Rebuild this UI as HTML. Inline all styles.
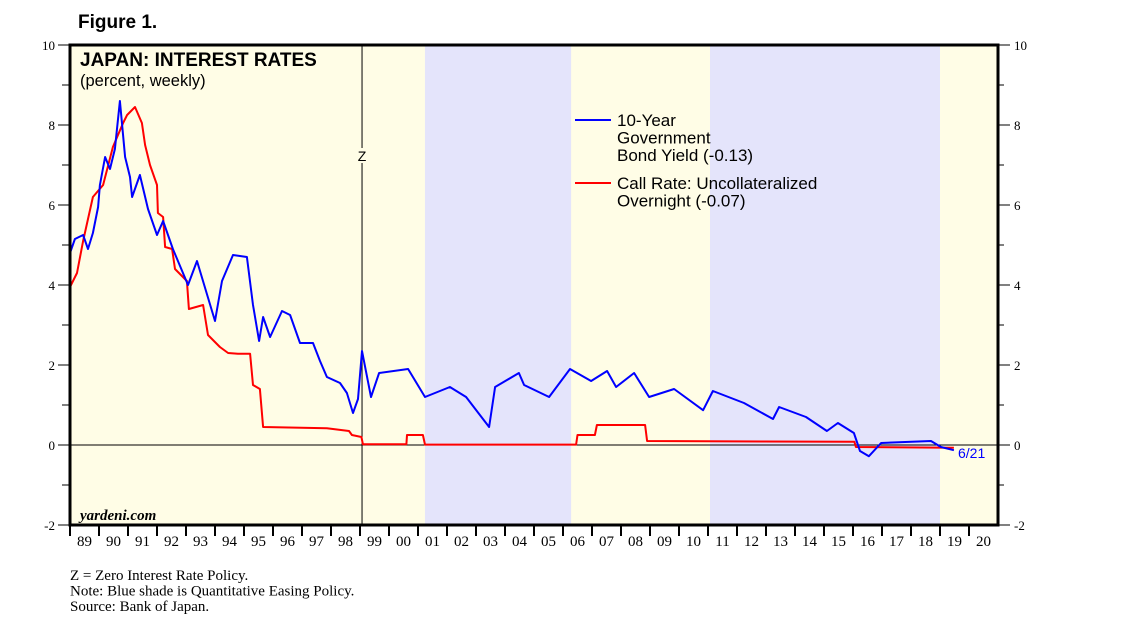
<!DOCTYPE html>
<html><head><meta charset="utf-8"><style>
body{margin:0;background:#fff;}
svg{display:block;}
text{font-family:"Liberation Sans",sans-serif;}
.serif{font-family:"Liberation Serif",serif;}
</style></head><body>
<svg id="chart" width="1138" height="629" viewBox="0 0 1138 629" xmlns="http://www.w3.org/2000/svg">
<text x="78" y="28" font-size="19" font-weight="bold">Figure 1.</text>
<g id="plot"></g>
</svg>
<script>
const bondYears=[1989.00,1989.17,1989.45,1989.62,1989.79,1989.97,1990.03,1990.21,1990.38,1990.55,1990.72,1990.90,1991.07,1991.14,1991.41,1991.69,1992.00,1992.21,1992.55,1993.07,1993.38,1994.00,1994.24,1994.62,1995.10,1995.31,1995.52,1995.66,1995.90,1996.31,1996.59,1996.93,1997.38,1997.62,1997.86,1998.31,1998.55,1998.76,1998.93,1999.07,1999.38,1999.66,2000.66,2001.24,2002.10,2002.66,2003.45,2003.66,2004.48,2004.66,2005.52,2006.24,2006.97,2007.52,2007.83,2008.45,2008.97,2009.83,2010.83,2011.17,2012.24,2013.24,2013.45,2014.38,2015.10,2015.48,2016.03,2016.24,2016.55,2016.97,2018.69,2019.03,2019.48];
const bondValues=[4.8,5.15,5.25,4.9,5.3,5.95,6.5,7.2,6.9,7.4,8.6,7.2,6.7,6.2,6.75,5.9,5.25,5.6,4.9,4.0,4.6,3.1,4.1,4.75,4.7,3.5,2.6,3.2,2.7,3.35,3.25,2.55,2.55,2.1,1.7,1.55,1.3,0.8,1.15,2.35,1.2,1.8,1.9,1.2,1.45,1.2,0.45,1.45,1.8,1.5,1.2,1.9,1.6,1.85,1.45,1.8,1.2,1.4,0.87,1.35,1.05,0.65,0.95,0.7,0.35,0.55,0.3,-0.15,-0.28,0.05,0.1,-0.05,-0.13];
const callYears=[1989.00,1989.24,1989.45,1989.79,1990.14,1990.48,1990.83,1990.97,1991.24,1991.48,1991.59,1991.76,1992.00,1992.03,1992.21,1992.28,1992.52,1992.62,1993.03,1993.10,1993.59,1993.76,1994.17,1994.45,1994.79,1995.21,1995.31,1995.55,1995.66,1997.86,1998.62,1998.72,1999.05,1999.10,2000.60,2000.62,2001.17,2001.24,2006.45,2006.50,2007.10,2007.17,2008.83,2008.90,2016.05,2016.10,2019.48];
const callValues=[3.95,4.3,5.1,6.2,6.5,7.45,8.05,8.25,8.45,8.05,7.5,7.0,6.5,5.8,5.7,4.95,4.9,4.4,4.1,3.4,3.5,2.75,2.45,2.3,2.28,2.28,1.5,1.4,0.45,0.42,0.35,0.25,0.2,0.02,0.02,0.25,0.25,0.01,0.01,0.25,0.25,0.5,0.5,0.1,0.08,-0.05,-0.07];
const qeStarts=[2001.24,2011.07];
const qeEnds=[2006.28,2019.0];
const yTicks=[-2,0,2,4,6,8,10];
const yearLabels=["89","90","91","92","93","94","95","96","97","98","99","00","01","02","03","04","05","06","07","08","09","10","11","12","13","14","15","16","17","18","19","20"];
const zeroPolicyYear=1999.07;

const L=70,R=998,T=45,B=525,Y0=1989,Y1=2021;
const xS=t=>L+(t-Y0)*(R-L)/(Y1-Y0);
const yS=v=>B-(v+2)*(B-T)/12;
const NS="http://www.w3.org/2000/svg";
const g=document.getElementById('plot');
function mk(tag,attrs,parent){const e=document.createElementNS(NS,tag);for(const k in attrs)e.setAttribute(k,attrs[k]);(parent||g).appendChild(e);return e;}

let bg=mk('rect',{x:L,y:T,width:R-L,height:B-T,fill:'#fffde6'});


qeStarts.forEach((s,i)=>{
  const r=mk('rect',{x:xS(s),y:T,width:xS(qeEnds[i])-xS(s),height:B-T,fill:'#e4e4fb'});
  
  
});
let zl=mk('line',{x1:L,x2:R,y1:yS(0),y2:yS(0),stroke:'#000','stroke-width':1});


let zx=xS(zeroPolicyYear);
let zv1=mk('line',{x1:zx,x2:zx,y1:T,y2:148,stroke:'#000','stroke-width':1});


let zv2=mk('line',{x1:zx,x2:zx,y1:163,y2:B,stroke:'#000','stroke-width':1});


let zt=mk('text',{x:zx,y:161,'font-size':14,'text-anchor':'middle'});zt.textContent='Z';



function series(xs,vs,color,name){
  const p=mk('polyline',{points:xs.map((t,i)=>xS(t).toFixed(1)+','+yS(vs[i]).toFixed(1)).join(' '),fill:'none',stroke:color,'stroke-width':2,'stroke-linejoin':'round'});
  
  
}
series(callYears,callValues,'#f00','call-rate-line');
series(bondYears,bondValues,'#00f','bond-yield-line');

let fr=mk('rect',{x:L,y:T,width:R-L,height:B-T,fill:'none',stroke:'#000','stroke-width':3});


for(let v=-2;v<=10;v++){
  const major=v%2===0;
  mk('line',{x1:L-(major?12:8),x2:L,y1:yS(v),y2:yS(v),stroke:'#000','stroke-width':1});
  mk('line',{x1:R,x2:R+(major?12:6),y1:yS(v),y2:yS(v),stroke:'#000','stroke-width':1});
}
yTicks.forEach(v=>{
  const a=mk('text',{x:55,y:yS(v)+5,'font-size':13,'text-anchor':'end',class:'serif'});a.textContent=v;
  
  
  const b=mk('text',{x:1014,y:yS(v)+5,'font-size':13,class:'serif'});b.textContent=v;
  
  
});
yearLabels.forEach((lab,i)=>{
  mk('line',{x1:xS(Y0+i),x2:xS(Y0+i),y1:B,y2:B+11,stroke:'#000','stroke-width':2});
  const t=mk('text',{x:xS(Y0+i+0.5),y:546,'font-size':15,'text-anchor':'middle',class:'serif'});t.textContent=lab;
  
  
});
let t1=mk('text',{x:80,y:66,'font-size':19,'font-weight':'bold'});t1.textContent='JAPAN: INTEREST RATES';


let t2=mk('text',{x:80,y:86,'font-size':16.5});t2.textContent='(percent, weekly)';


const legendEntries=[['#00f',['10-Year','Government','Bond Yield (-0.13)'],126,'legend-bond-yield'],['#f00',['Call Rate: Uncollateralized','Overnight (-0.07)'],189,'legend-call-rate']];
legendEntries.forEach(([c,lines,y,n])=>{
  const grp=mk('g',{});
  
  
  mk('line',{x1:575,x2:611,y1:y-6,y2:y-6,stroke:c,'stroke-width':2},grp);
  lines.forEach((s,i)=>{const t=mk('text',{x:617,y:y+i*17.5,'font-size':17},grp);t.textContent=s;});
});
let yd=mk('text',{x:80,y:520,'font-size':15,'font-style':'italic','font-weight':'bold',class:'serif'});yd.textContent='yardeni.com';


let dl=mk('text',{x:958,y:458,'font-size':14,fill:'#00f'});dl.textContent='6/21';


['Z = Zero Interest Rate Policy.','Note: Blue shade is Quantitative Easing Policy.','Source: Bank of Japan.'].forEach((s,i)=>{
  const t=mk('text',{x:70,y:580+i*15.5,'font-size':15,class:'serif'});t.textContent=s;
  
  
});
</script>
</body></html>
